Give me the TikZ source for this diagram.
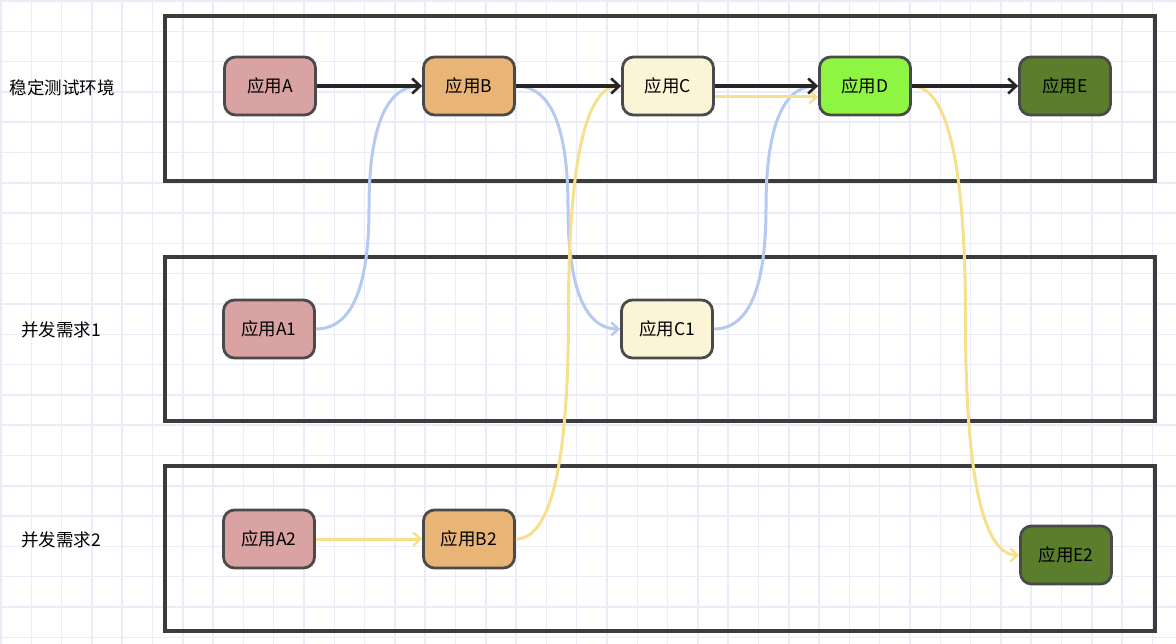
\documentclass[tikz,border=0pt]{standalone}
\usepackage{fontspec}
\setmainfont{Noto Sans CJK SC}
\usetikzlibrary{arrows.meta,calc}
\definecolor{gridc}{HTML}{ECECF9}
\definecolor{boxc}{HTML}{3C3C3C}
\definecolor{nodeb}{HTML}{4A4A4A}
\definecolor{fa}{HTML}{D9A3A3}
\definecolor{fb}{HTML}{E8B576}
\definecolor{fc}{HTML}{FCF4D6}
\definecolor{fd}{HTML}{8EF542}
\definecolor{fe}{HTML}{5B7E2C}
\definecolor{blu}{HTML}{B6CAF1}
\definecolor{yel}{HTML}{F7E08C}
\tikzset{
  app/.style={draw=nodeb, line width=2.8pt, rounded corners=11pt, minimum width=91pt, minimum height=58pt, inner sep=0pt, font=\fontsize{17.5}{19}\selectfont},
  envbox/.style={draw=boxc, line width=3.2pt},
  lab/.style={font=\fontsize{17.5}{19}\selectfont, inner sep=0pt},
  blk/.style={draw=black!85, line width=3.2pt, -{Straight Barb[length=8pt,width=15pt,line width=2.6pt]}},
  bluearr/.style={draw=blu, line width=3pt, -{Straight Barb[length=7pt,width=13pt,line width=2.4pt]}},
  yelarr/.style={draw=yel, line width=3pt, -{Straight Barb[length=7pt,width=13pt,line width=2.4pt]}},
  curv/.style={to path={
    let \p1=(\tikztostart), \p2=(\tikztotarget) in
    .. controls ({\x1+(\x2-\x1)/3},\y1) and ({(\x1+\x2)/2},{\y1+(\y2-\y1)/6}) ..
    ({(\x1+\x2)/2},{(\y1+\y2)/2})
    .. controls ({(\x1+\x2)/2},{\y2-(\y2-\y1)/6}) and ({\x2-(\x2-\x1)/3},\y2) ..
    (\tikztotarget) \tikztonodes}}
}
\begin{document}
\begin{tikzpicture}[x=1pt,y=-1pt]
\useasboundingbox (0,0) rectangle (1176,644);
\fill[white] (0,0) rectangle (1176,644);
% grid
\foreach \i in {0,...,38} {
  \draw[gridc, line width=1.5pt] ({1+30.3*\i},0) -- ({1+30.3*\i},644);
}
\foreach \j in {0,...,21} {
  \draw[gridc, line width=1.5pt] (0,{1+30.3*\j}) -- (1176,{1+30.3*\j});
}
% containers
\draw[envbox] (165,16) rectangle (1155,181);
\draw[envbox] (165,257) rectangle (1155,421);
\draw[envbox] (165,466) rectangle (1155,631);
% labels
\node[lab] (l1) at (62,88) {稳定测试环境};
\node[lab] (l2) at (61,330) {并发需求1};
\node[lab] (l3) at (61,540) {并发需求2};
% nodes
\node[app, fill=fa] (a) at (270,86) {应用A};
\node[app, fill=fb] (b) at (469,86) {应用B};
\node[app, fill=fc] (c) at (668,86) {应用C};
\node[app, fill=fd] (d) at (865,86) {应用D};
\node[app, fill=fe] (e) at (1065,86) {应用E};
\node[app, fill=fa] (a1) at (269,329) {应用A1};
\node[app, fill=fc] (c1) at (667,329) {应用C1};
\node[app, fill=fa] (a2) at (269,539) {应用A2};
\node[app, fill=fb] (b2) at (469,539) {应用B2};
\node[app, fill=fe] (e2) at (1066,555) {应用E2};
% blue curves
\draw[bluearr] (a1.east) to[curv] (b.west);
\draw[bluearr] (b.east) to[curv] (c1.west);
\draw[bluearr] (c1.east) to[curv] (d.west);
% yellow
\draw[yelarr] (a2.east) -- (b2.west);
\draw[yelarr] (b2.east) to[curv] (c.west);
\draw[yelarr] ($(c.east)+(0,11)$) -- ($(d.west)+(0,11)$);
\draw[yelarr] (d.east) to[curv] (e2.west);
% black
\draw[blk] (a) -- (b);
\draw[blk] (b) -- (c);
\draw[blk] (c) -- (d);
\draw[blk] (d) -- (e);
\end{tikzpicture}
\end{document}
